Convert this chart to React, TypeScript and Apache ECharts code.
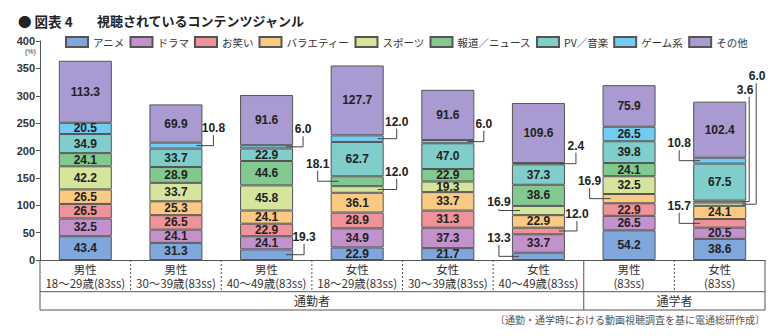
import React, { useEffect, useRef } from 'react';
import * as echarts from 'echarts';

const categories = [
  '男性\n18～29歳(83ss)',
  '男性\n30～39歳(83ss)',
  '男性\n40～49歳(83ss)',
  '女性\n18～29歳(83ss)',
  '女性\n30～39歳(83ss)',
  '女性\n40～49歳(83ss)',
  '男性\n(83ss)',
  '女性\n(83ss)',
];
const groups = ['通勤者', '通勤者', '通勤者', '通勤者', '通勤者', '通勤者', '通学者', '通学者'];
const genreNames = ['アニメ', 'ドラマ', 'お笑い', 'バラエティー', 'スポーツ', '報道／ニュース', 'PV／音楽', 'ゲーム系', 'その他'];

const anime = [43.4, 31.3, 19.3, 22.9, 21.7, 13.3, 54.2, 38.6];
const drama = [32.5, 24.1, 24.1, 34.9, 37.3, 33.7, 26.5, 20.5];
const owarai = [26.5, 26.5, 22.9, 28.9, 31.3, 12.0, 22.9, 15.7];
const variety = [26.5, 25.3, 24.1, 36.1, 33.7, 22.9, 16.9, 24.1];
const sports = [42.2, 33.7, 45.8, 12.0, 19.3, 16.9, 32.5, 6.0];
const news = [24.1, 28.9, 44.6, 18.1, 22.9, 38.6, 24.1, 3.6];
const pv = [34.9, 33.7, 22.9, 62.7, 47.0, 37.3, 39.8, 67.5];
const game = [20.5, 10.8, 6.0, 12.0, 6.0, 2.4, 26.5, 10.8];
const other = [113.3, 69.9, 91.6, 127.7, 91.6, 109.6, 75.9, 102.4];

const yMin = 0;
const yMax = 400;
const yStep = 50;

const noteText = '〔通勤・通学時における動画視聴調査を基に電通総研作成〕';

const seriesValues = [anime, drama, owarai, variety, sports, news, pv, game, other];
const colors = ['#80a7dc', '#c391cc', '#ef9299', '#fbca82', '#d5e69c', '#82c98f', '#80cecb', '#72cbf1', '#a99ad2'];

// Layout of values whose labels sit outside the bar with a leader line
// s: series index, c: category index
const outside = [
  { s: 7, c: 1, side: 1, inset: 6, out: 11, rise: 10.5, ldx: 0 },
  { s: 7, c: 2, side: 1, inset: 7, out: 10, rise: 10.5, ldx: 0 },
  { s: 0, c: 2, side: 1, inset: 7, out: 11, rise: 11, ldx: 0 },
  { s: 7, c: 3, side: 1, inset: 6, out: 13, rise: 10, ldx: 0 },
  { s: 5, c: 3, side: -1, inset: 8, out: 13, rise: 10.5, ldx: 0 },
  { s: 4, c: 3, side: 1, inset: 6, out: 13, rise: 10.5, ldx: 0 },
  { s: 7, c: 4, side: 1, inset: 7, out: 9.5, rise: 11, ldx: 0 },
  { s: 7, c: 5, side: 1, inset: 6, out: 11, rise: 11, ldx: 0 },
  { s: 2, c: 5, side: 1, inset: 6, out: 12, rise: 10, ldx: 0 },
  { s: 4, c: 5, side: -1, inset: 8, out: 13, rise: 1.5, ldx: 0 },
  { s: 0, c: 5, side: -1, inset: 7, out: 13, rise: 11, ldx: 0 },
  { s: 3, c: 6, side: -1, inset: 8, out: 13, rise: 10.5, ldx: 0 },
  { s: 7, c: 7, side: -1, inset: 7, out: 14, rise: 10.5, ldx: 0 },
  { s: 2, c: 7, side: -1, inset: 7, out: 14, rise: 10.5, ldx: 0 },
  { s: 4, c: 7, side: 1, inset: 4, out: 10, rise: 121, ldx: 1 },
  { s: 5, c: 7, side: 1, inset: 4, out: 3, rise: 105, ldx: -4 },
];

const BAR_RATIO = 0.585;
const ROW1_H = 31.7;
const ROW2_H = 50;
const LINE_COLOR = '#555';
const NUM_FONT = "'Liberation Sans', Arial, 'Noto Sans CJK JP', sans-serif";
const JP_FONT = "'Noto Sans CJK JP', 'Liberation Sans', sans-serif";

const isOutside = (s: number, c: number) => outside.some((o) => o.s === s && o.c === c);

const midOf = (s: number, c: number) => {
  let base = 0;
  for (let k = 0; k < s; k++) base += seriesValues[k][c];
  return base + seriesValues[s][c] / 2;
};

export default function App() {
  const ref = useRef<HTMLDivElement>(null);

  useEffect(() => {
    if (!ref.current) return;
    const chart = echarts.init(ref.current, undefined, { renderer: 'svg' });

    const barSeries = genreNames.map((name, s) => ({
      name,
      type: 'bar',
      stack: 'total',
      barWidth: BAR_RATIO * 100 + '%',
      data: seriesValues[s],
      itemStyle: { color: colors[s], borderColor: LINE_COLOR, borderWidth: 1 },
      label: {
        show: true,
        position: 'inside',
        fontFamily: NUM_FONT,
        fontWeight: 'bold',
        fontSize: 12,
        color: '#222',
        formatter: (p: any) => (isOutside(s, p.dataIndex) ? '' : Number(p.value).toFixed(1)),
      },
      emphasis: { disabled: true },
      z: 2,
    }));

    const annotationSeries = {
      type: 'custom',
      silent: true,
      clip: false,
      z: 6,
      data: outside.map((o, k) => [o.c, midOf(o.s, o.c), k, seriesValues[o.s][o.c]]),
      renderItem: (params: any, api: any) => {
        const k = api.value(2);
        const o = outside[k];
        const pt = api.coord([api.value(0), api.value(1)]);
        const half = (api.size([1, 0])[0] * BAR_RATIO) / 2;
        const edge = pt[0] + o.side * half;
        const x0 = edge - o.side * o.inset;
        const x1 = edge + o.side * o.out;
        const yTop = pt[1] - o.rise;
        return {
          type: 'group',
          children: [
            {
              type: 'polyline',
              shape: { points: [[x0, pt[1]], [x1, pt[1]], [x1, yTop]] },
              style: { stroke: '#444', lineWidth: 1, fill: 'none' },
            },
            {
              type: 'text',
              x: x1 + o.ldx,
              y: yTop - 7,
              style: {
                text: Number(api.value(3)).toFixed(1),
                align: 'center',
                verticalAlign: 'middle',
                fontFamily: NUM_FONT,
                fontWeight: 'bold',
                fontSize: 12,
                fill: '#222',
              },
            },
          ],
        };
      },
    };

    const tableSeries = {
      type: 'custom',
      silent: true,
      clip: false,
      z: 6,
      data: [[0, 0]],
      renderItem: (params: any, api: any) => {
        const y0 = api.coord([0, 0])[1];
        const band = api.size([1, 0])[0];
        const n = categories.length;
        const centers = categories.map((_, i) => api.coord([i, 0])[0]);
        const leftEdge = centers[0] - band / 2;
        const rightEdge = centers[n - 1] + band / 2;
        const children: any[] = [];
        const solid = { stroke: LINE_COLOR, lineWidth: 1 };
        const dashed = { stroke: LINE_COLOR, lineWidth: 1, lineDash: [2, 2] };
        children.push({ type: 'line', shape: { x1: leftEdge, y1: y0, x2: leftEdge, y2: y0 + ROW2_H }, style: solid });
        children.push({ type: 'line', shape: { x1: rightEdge, y1: y0, x2: rightEdge, y2: y0 + ROW2_H }, style: solid });
        children.push({ type: 'line', shape: { x1: leftEdge, y1: y0 + ROW1_H, x2: rightEdge, y2: y0 + ROW1_H }, style: solid });
        children.push({ type: 'line', shape: { x1: leftEdge, y1: y0 + ROW2_H, x2: rightEdge, y2: y0 + ROW2_H }, style: solid });
        for (let i = 1; i < n; i++) {
          const x = centers[i] - band / 2;
          if (groups[i] !== groups[i - 1]) {
            children.push({ type: 'line', shape: { x1: x, y1: y0, x2: x, y2: y0 + ROW2_H }, style: solid });
          } else {
            children.push({ type: 'line', shape: { x1: x, y1: y0, x2: x, y2: y0 + ROW1_H }, style: dashed });
          }
        }
        let start = 0;
        for (let i = 1; i <= n; i++) {
          if (i === n || groups[i] !== groups[start]) {
            const gx = (centers[start] + centers[i - 1]) / 2;
            children.push({
              type: 'text',
              x: gx,
              y: y0 + (ROW1_H + ROW2_H) / 2,
              style: {
                text: groups[start],
                align: 'center',
                verticalAlign: 'middle',
                fontFamily: JP_FONT,
                fontSize: 12,
                fill: '#333',
              },
            });
            start = i;
          }
        }
        return { type: 'group', children };
      },
    };

    chart.setOption({
      animation: false,
      backgroundColor: '#fff',
      textStyle: { fontFamily: JP_FONT },
      grid: { left: 40, right: 19, top: 41, bottom: 76, containLabel: false },
      legend: {
        data: genreNames,
        left: 60,
        top: 31,
        itemWidth: 22,
        itemHeight: 10,
        itemGap: 5,
        icon: 'rect',
        selectedMode: false,
        textStyle: { fontSize: 10.5, color: '#333', fontFamily: JP_FONT },
      },
      xAxis: {
        type: 'category',
        data: categories,
        axisLine: { show: true, lineStyle: { color: LINE_COLOR, width: 1 } },
        axisTick: { show: false },
        axisLabel: {
          interval: 0,
          margin: 2.5,
          fontSize: 11.5,
          lineHeight: 13.5,
          color: '#333',
          fontFamily: JP_FONT,
        },
      },
      yAxis: {
        type: 'value',
        min: yMin,
        max: yMax,
        interval: yStep,
        axisLine: { show: true, lineStyle: { color: LINE_COLOR, width: 1 } },
        axisTick: { show: true, length: 4, lineStyle: { color: LINE_COLOR } },
        axisLabel: { fontSize: 11, fontWeight: 'bold', color: '#333', margin: 5, fontFamily: NUM_FONT },
        splitLine: { show: false },
      },
      graphic: [
        {
          type: 'text',
          left: 18,
          top: 14,
          style: { text: '● 図表 4', fontFamily: JP_FONT, fontWeight: 'bold', fontSize: 13.5, fill: '#222' },
        },
        {
          type: 'text',
          left: 97,
          top: 14,
          style: { text: '視聴されているコンテンツジャンル', fontFamily: JP_FONT, fontWeight: 'bold', fontSize: 13, fill: '#222' },
        },
        {
          type: 'text',
          left: 25,
          top: 48,
          style: { text: '(%)', fontFamily: NUM_FONT, fontSize: 7, fill: '#333' },
        },
        {
          type: 'text',
          right: 19,
          top: 314,
          style: { text: noteText, fontFamily: JP_FONT, fontSize: 10, fill: '#555' },
        },
      ],
      series: [...barSeries, annotationSeries, tableSeries],
    });

    return () => chart.dispose();
  }, []);

  return <div ref={ref} style={{ position: 'fixed', left: 0, top: 0, width: 784, height: 336 }} />;
}
